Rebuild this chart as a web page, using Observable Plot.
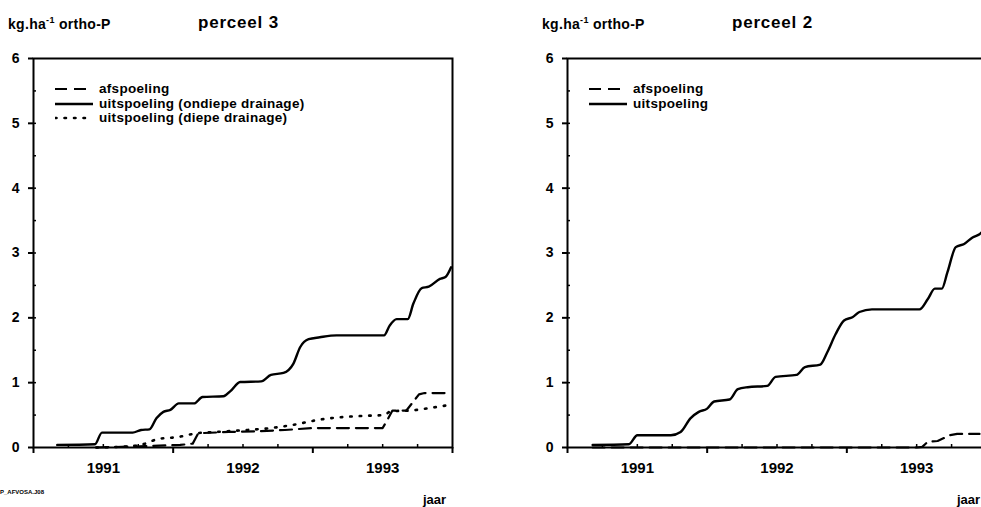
<!DOCTYPE html>
<html><head><meta charset="utf-8">
<script src="https://cdn.jsdelivr.net/npm/d3@7"></script>
<script src="https://cdn.jsdelivr.net/npm/@observablehq/plot@0.6"></script>
<style>
html,body{margin:0;padding:0;background:#fff;overflow:hidden;width:981px;height:507px}
body{font-family:"Liberation Sans",Arial,sans-serif;font-weight:bold;color:#000;position:relative}
.panel{position:absolute;top:0;width:480px;height:507px}
.unit{position:absolute;left:8px;top:16px;font-size:14px;letter-spacing:0.3px;white-space:nowrap}
.unit sup{font-size:9px;vertical-align:6px;line-height:0}
.title{position:absolute;left:198px;top:13px;font-size:17px;letter-spacing:0.8px;white-space:nowrap}
.chart{position:absolute;left:0;top:40px}
.legend{position:absolute;left:55px;top:82px;font-size:13.5px;line-height:14.5px;letter-spacing:0.3px;white-space:nowrap}
.legend div{display:flex;align-items:center}
.legend svg{margin-right:4px}
.jaar{position:absolute;left:423px;top:492px;font-size:13px}
.code{position:absolute;left:0px;top:489px;font-size:6px;letter-spacing:0px}
</style>
</head><body>
<script>
// ---- perceel 3 ----
const p3OndiepX = [1990.67,1990.94,1990.99,1991.21,1991.27,1991.33,1991.38,1991.43,1991.48,1991.54,1991.65,1991.71,1991.86,1991.91,1991.98,1992.13,1992.20,1992.29,1992.36,1992.41,1992.47,1992.55,1992.67,1993.01,1993.05,1993.10,1993.18,1993.22,1993.28,1993.33,1993.41,1993.45,1993.49];
const p3OndiepY = [0.04,0.05,0.23,0.23,0.27,0.28,0.45,0.55,0.58,0.68,0.68,0.78,0.79,0.87,1.01,1.02,1.12,1.15,1.29,1.55,1.67,1.70,1.73,1.73,1.88,1.98,1.98,2.22,2.46,2.48,2.60,2.63,2.78];
const p3DiepX = [1990.95,1991.20,1991.30,1991.39,1991.53,1991.67,1991.81,1992.03,1992.20,1992.36,1992.55,1992.72,1992.89,1993.01,1993.06,1993.20,1993.34,1993.49];
const p3DiepY = [0.00,0.02,0.06,0.13,0.16,0.22,0.24,0.27,0.30,0.35,0.43,0.47,0.49,0.50,0.56,0.57,0.61,0.66];
const p3AfX = [1990.95,1991.30,1991.55,1991.64,1991.68,1991.90,1992.10,1992.30,1992.50,1993.00,1993.04,1993.07,1993.17,1993.26,1993.30,1993.47];
const p3AfY = [0.00,0.02,0.04,0.06,0.22,0.24,0.25,0.27,0.30,0.30,0.45,0.57,0.57,0.82,0.84,0.84];
// ---- perceel 2 ----
const p2UitX = [1990.68,1990.94,1991.00,1991.24,1991.31,1991.38,1991.44,1991.50,1991.55,1991.66,1991.72,1991.79,1991.93,1991.99,1992.14,1992.20,1992.31,1992.36,1992.42,1992.48,1992.54,1992.59,1992.68,1993.02,1993.08,1993.13,1993.18,1993.22,1993.28,1993.34,1993.40,1993.45,1993.50];
const p2UitY = [0.04,0.05,0.19,0.19,0.24,0.45,0.55,0.60,0.71,0.74,0.90,0.93,0.95,1.09,1.12,1.24,1.28,1.47,1.75,1.96,2.01,2.09,2.13,2.13,2.29,2.45,2.45,2.70,3.09,3.14,3.24,3.29,3.40];
const p2AfX = [1990.68,1993.00,1993.04,1993.08,1993.15,1993.24,1993.29,1993.45];
const p2AfY = [0.00,0.00,0.01,0.09,0.10,0.19,0.21,0.21];
// ---- axes ----
const xDomain = [1990.5, 1993.5];
const yDomain = [0, 6];
const xLabelTicks = [1991, 1992, 1993];
const xMajorTicks = [1990.5, 1991.5, 1992.5, 1993.5];
const xMinorTicks = [1990.75,1991,1991.25,1991.75,1992,1992.25,1992.75,1993,1993.25];
const yTicks = [0,1,2,3,4,5,6];
const yMinorTicks = [0.5,1,1.5,2,2.5,3,3.5,4,4.5,5,5.5];
const unitText = "kg.ha<sup>-1</sup> ortho-P";

const styles = {
  afspoeling: {strokeDasharray: "12,7", strokeWidth: 2.2},
  ondiep: {strokeWidth: 2.4},
  diep: {strokeDasharray: "1.5,8", strokeWidth: 2.6, strokeLinecap: "round"}
};

function rows(xs, ys) { return xs.map((x, i) => ({x, y: ys[i]})); }

function makeChart(series) {
  return Plot.plot({
    width: 462, height: 439,
    marginTop: 18, marginBottom: 32, marginLeft: 33, marginRight: 10,
    x: {domain: xDomain, axis: null},
    y: {domain: yDomain, axis: null},
    style: {fontFamily: "Liberation Sans, Arial, sans-serif", fontWeight: "bold", color: "black", background: "white", overflow: "visible"},
    marks: [
      Plot.axisY(yMinorTicks, {anchor: "left", tickSize: 3, dx: 3, text: null, label: null, strokeWidth: 1.5}),
      Plot.axisY(yTicks, {anchor: "left", tickSize: 5, tickPadding: 9, fontSize: 14, fontWeight: "bold", label: null, strokeWidth: 2, tickFormat: d => String(d)}),
      Plot.axisX(xMinorTicks, {anchor: "bottom", tickSize: 3, dy: -3, text: null, label: null, strokeWidth: 1.5}),
      Plot.axisX(xMajorTicks, {anchor: "bottom", tickSize: 6, text: null, label: null, strokeWidth: 2}),
      Plot.axisX(xLabelTicks, {anchor: "bottom", tickSize: 0, tickPadding: 15, fontSize: 15, fontWeight: "bold", label: null, tickFormat: d => String(d)}),
      ...series.map(s => Plot.line(rows(s.x, s.y), {x: "x", y: "y", stroke: "black", curve: s.curve || "linear", ...s.style})),
      Plot.frame({stroke: "black", strokeWidth: 2})
    ]
  });
}

function legendSample(style) {
  const dash = style.strokeDasharray ? `stroke-dasharray="${style.strokeDasharray}"` : "";
  const cap = style.strokeLinecap ? `stroke-linecap="${style.strokeLinecap}"` : "";
  return `<svg width="40" height="6"><line x1="0" x2="38" y1="3" y2="3" stroke="black" stroke-width="${style.strokeWidth}" ${dash} ${cap}/></svg>`;
}

function makePanel(left, title, series, legend, withCode) {
  const p = document.createElement("div");
  p.className = "panel";
  p.style.left = left + "px";
  p.innerHTML = `<div class="unit">${unitText}</div><div class="title">${title}</div>`;
  const c = document.createElement("div");
  c.className = "chart";
  c.appendChild(makeChart(series));
  p.appendChild(c);
  const lg = document.createElement("div");
  lg.className = "legend";
  lg.innerHTML = legend.map(l => `<div>${legendSample(l.style)}<span>${l.label}</span></div>`).join("");
  p.appendChild(lg);
  const j = document.createElement("div");
  j.className = "jaar"; j.textContent = "jaar";
  p.appendChild(j);
  if (withCode) {
    const cd = document.createElement("div");
    cd.className = "code"; cd.textContent = "P_AFVOSA.J08";
    p.appendChild(cd);
  }
  document.body.appendChild(p);
}

makePanel(0, "perceel 3", [
  {x: p3AfX, y: p3AfY, style: styles.afspoeling},
  {x: p3DiepX, y: p3DiepY, style: styles.diep, curve: "monotone-x"},
  {x: p3OndiepX, y: p3OndiepY, style: styles.ondiep, curve: "monotone-x"}
], [
  {label: "afspoeling", style: styles.afspoeling},
  {label: "uitspoeling (ondiepe drainage)", style: styles.ondiep},
  {label: "uitspoeling (diepe drainage)", style: styles.diep}
], true);

makePanel(534, "perceel 2", [
  {x: p2AfX, y: p2AfY, style: styles.afspoeling},
  {x: p2UitX, y: p2UitY, style: styles.ondiep, curve: "monotone-x"}
], [
  {label: "afspoeling", style: styles.afspoeling},
  {label: "uitspoeling", style: styles.ondiep}
], false);
</script>
</body></html>
